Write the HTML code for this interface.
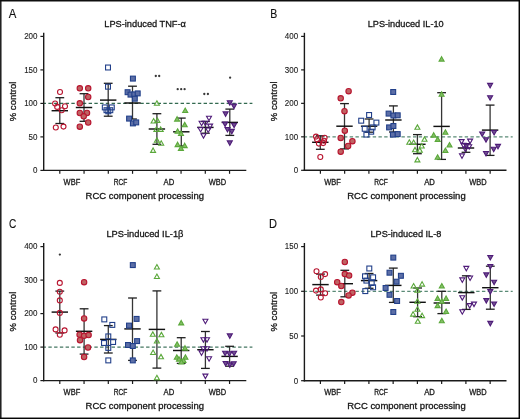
<!DOCTYPE html>
<html><head><meta charset="utf-8"><style>
html,body{margin:0;padding:0;background:#fff;}
svg{display:block;will-change:transform;}
text{font-family:"Liberation Sans", sans-serif;stroke:#1a1a1a;stroke-width:0.3px;}
</style></head><body>
<svg width="520" height="419" viewBox="0 0 520 419">
<rect x="0" y="0" width="520" height="419" fill="#fff"/>
<rect x="0" y="0" width="1.55" height="419" fill="#222"/>
<rect x="0" y="0" width="520" height="1.5" fill="#0e0e0e"/>
<rect x="518.55" y="0" width="1.45" height="419" fill="#050505"/>
<rect x="0" y="417.55" width="520" height="1.45" fill="#050505"/>
<text x="8.8" y="17.8" font-size="12.6" fill="#111" style="stroke-width:0.15px" textLength="7.6" lengthAdjust="spacingAndGlyphs">A</text>
<text x="145.1" y="26.6" font-size="9.7" text-anchor="middle" fill="#111" textLength="81.6" lengthAdjust="spacingAndGlyphs">LPS-induced TNF-α</text>
<line x1="40.400000000000006" y1="170.40" x2="43.7" y2="170.40" stroke="#1a1a1a" stroke-width="1.2"/>
<text x="37.5" y="173.20" font-size="9.4" text-anchor="end" fill="#222" style="stroke-width:0.12px" textLength="4.45" lengthAdjust="spacingAndGlyphs">0</text>
<line x1="40.400000000000006" y1="136.90" x2="43.7" y2="136.90" stroke="#1a1a1a" stroke-width="1.2"/>
<text x="37.5" y="139.70" font-size="9.4" text-anchor="end" fill="#222" style="stroke-width:0.12px" textLength="8.90" lengthAdjust="spacingAndGlyphs">50</text>
<line x1="40.400000000000006" y1="103.40" x2="43.7" y2="103.40" stroke="#1a1a1a" stroke-width="1.2"/>
<text x="37.5" y="106.20" font-size="9.4" text-anchor="end" fill="#222" style="stroke-width:0.12px" textLength="13.35" lengthAdjust="spacingAndGlyphs">100</text>
<line x1="40.400000000000006" y1="69.90" x2="43.7" y2="69.90" stroke="#1a1a1a" stroke-width="1.2"/>
<text x="37.5" y="72.70" font-size="9.4" text-anchor="end" fill="#222" style="stroke-width:0.12px" textLength="13.35" lengthAdjust="spacingAndGlyphs">150</text>
<line x1="40.400000000000006" y1="36.40" x2="43.7" y2="36.40" stroke="#1a1a1a" stroke-width="1.2"/>
<text x="37.5" y="39.20" font-size="9.4" text-anchor="end" fill="#222" style="stroke-width:0.12px" textLength="13.35" lengthAdjust="spacingAndGlyphs">200</text>
<text transform="translate(16.4,101.40) rotate(-90)" font-size="9.7" text-anchor="middle" fill="#111" textLength="39.7" lengthAdjust="spacingAndGlyphs">% control</text>
<line x1="43.7" y1="103.4" x2="252.4" y2="103.4" stroke="#336a50" stroke-width="1.2" stroke-dasharray="3.4 2.35" stroke-dashoffset="1.1"/>
<line x1="43.7" y1="32.80" x2="43.7" y2="171.10" stroke="#1a1a1a" stroke-width="1.4"/>
<line x1="43.0" y1="170.4" x2="246.3" y2="170.4" stroke="#1a1a1a" stroke-width="1.4"/>
<line x1="59.80" y1="170.4" x2="59.80" y2="173.80" stroke="#1a1a1a" stroke-width="1.2"/>
<line x1="84.05" y1="170.4" x2="84.05" y2="173.80" stroke="#1a1a1a" stroke-width="1.2"/>
<line x1="108.30" y1="170.4" x2="108.30" y2="173.80" stroke="#1a1a1a" stroke-width="1.2"/>
<line x1="132.55" y1="170.4" x2="132.55" y2="173.80" stroke="#1a1a1a" stroke-width="1.2"/>
<line x1="156.80" y1="170.4" x2="156.80" y2="173.80" stroke="#1a1a1a" stroke-width="1.2"/>
<line x1="181.05" y1="170.4" x2="181.05" y2="173.80" stroke="#1a1a1a" stroke-width="1.2"/>
<line x1="205.30" y1="170.4" x2="205.30" y2="173.80" stroke="#1a1a1a" stroke-width="1.2"/>
<line x1="229.55" y1="170.4" x2="229.55" y2="173.80" stroke="#1a1a1a" stroke-width="1.2"/>
<text x="71.92" y="184.80" font-size="8.2" text-anchor="middle" fill="#222" textLength="16.6" lengthAdjust="spacingAndGlyphs">WBF</text>
<text x="120.43" y="184.80" font-size="8.2" text-anchor="middle" fill="#222" textLength="13.6" lengthAdjust="spacingAndGlyphs">RCF</text>
<text x="168.93" y="184.80" font-size="8.2" text-anchor="middle" fill="#222" textLength="10.7" lengthAdjust="spacingAndGlyphs">AD</text>
<text x="217.43" y="184.80" font-size="8.2" text-anchor="middle" fill="#222" textLength="17.4" lengthAdjust="spacingAndGlyphs">WBD</text>
<text x="144.80" y="198.70" font-size="9.4" text-anchor="middle" fill="#111" textLength="118.4" lengthAdjust="spacingAndGlyphs">RCC component processing</text>
<line x1="59.8" y1="97.7" x2="59.8" y2="123.5" stroke="#353535" stroke-width="1.3"/>
<line x1="55.40" y1="97.7" x2="64.20" y2="97.7" stroke="#1e1e1e" stroke-width="1.3"/>
<line x1="55.40" y1="123.5" x2="64.20" y2="123.5" stroke="#1e1e1e" stroke-width="1.3"/>
<line x1="51.60" y1="110.7" x2="68.00" y2="110.7" stroke="#111" stroke-width="1.45"/>
<circle cx="60.0" cy="92.0" r="2.5" fill="none" stroke="#b8142f" stroke-width="1.1"/>
<circle cx="55.1" cy="103.5" r="2.5" fill="none" stroke="#b8142f" stroke-width="1.1"/>
<circle cx="57.2" cy="106.9" r="2.5" fill="none" stroke="#b8142f" stroke-width="1.1"/>
<circle cx="61.7" cy="110.3" r="2.5" fill="none" stroke="#b8142f" stroke-width="1.1"/>
<circle cx="65.0" cy="106.3" r="2.5" fill="none" stroke="#b8142f" stroke-width="1.1"/>
<circle cx="55.8" cy="127.5" r="2.5" fill="none" stroke="#b8142f" stroke-width="1.1"/>
<circle cx="63.5" cy="126.6" r="2.5" fill="none" stroke="#b8142f" stroke-width="1.1"/>
<line x1="84.0" y1="93.7" x2="84.0" y2="121.3" stroke="#353535" stroke-width="1.3"/>
<line x1="79.60" y1="93.7" x2="88.40" y2="93.7" stroke="#1e1e1e" stroke-width="1.3"/>
<line x1="79.60" y1="121.3" x2="88.40" y2="121.3" stroke="#1e1e1e" stroke-width="1.3"/>
<line x1="75.80" y1="107.5" x2="92.20" y2="107.5" stroke="#111" stroke-width="1.45"/>
<circle cx="79.8" cy="88.3" r="2.7" fill="#bf6363" stroke="#b8142f" stroke-width="1.1"/>
<circle cx="88.2" cy="88.3" r="2.7" fill="#bf6363" stroke="#b8142f" stroke-width="1.1"/>
<circle cx="88.2" cy="97" r="2.7" fill="#bf6363" stroke="#b8142f" stroke-width="1.1"/>
<circle cx="79.8" cy="103.3" r="2.7" fill="#bf6363" stroke="#b8142f" stroke-width="1.1"/>
<circle cx="79.8" cy="113" r="2.7" fill="#bf6363" stroke="#b8142f" stroke-width="1.1"/>
<circle cx="87" cy="113" r="2.7" fill="#bf6363" stroke="#b8142f" stroke-width="1.1"/>
<circle cx="83.7" cy="116.3" r="2.7" fill="#bf6363" stroke="#b8142f" stroke-width="1.1"/>
<circle cx="88.2" cy="122.5" r="2.7" fill="#bf6363" stroke="#b8142f" stroke-width="1.1"/>
<circle cx="79.8" cy="126.7" r="2.7" fill="#bf6363" stroke="#b8142f" stroke-width="1.1"/>
<line x1="108.2" y1="83.3" x2="108.2" y2="116.2" stroke="#353535" stroke-width="1.3"/>
<line x1="103.80" y1="83.3" x2="112.60" y2="83.3" stroke="#1e1e1e" stroke-width="1.3"/>
<line x1="103.80" y1="116.2" x2="112.60" y2="116.2" stroke="#1e1e1e" stroke-width="1.3"/>
<line x1="100.00" y1="100.1" x2="116.40" y2="100.1" stroke="#111" stroke-width="1.45"/>
<rect x="105.55" y="65.05" width="4.9" height="4.9" fill="none" stroke="#22408a" stroke-width="1.1"/>
<rect x="105.55" y="84.25" width="4.9" height="4.9" fill="none" stroke="#22408a" stroke-width="1.1"/>
<rect x="102.35" y="104.95" width="4.9" height="4.9" fill="none" stroke="#22408a" stroke-width="1.1"/>
<rect x="109.35" y="104.95" width="4.9" height="4.9" fill="none" stroke="#22408a" stroke-width="1.1"/>
<rect x="104.05" y="107.75" width="4.9" height="4.9" fill="none" stroke="#22408a" stroke-width="1.1"/>
<rect x="107.85" y="107.75" width="4.9" height="4.9" fill="none" stroke="#22408a" stroke-width="1.1"/>
<rect x="105.85" y="108.85" width="4.9" height="4.9" fill="none" stroke="#22408a" stroke-width="1.1"/>
<line x1="132.5" y1="86.2" x2="132.5" y2="119.0" stroke="#353535" stroke-width="1.3"/>
<line x1="128.10" y1="86.2" x2="136.90" y2="86.2" stroke="#1e1e1e" stroke-width="1.3"/>
<line x1="128.10" y1="119.0" x2="136.90" y2="119.0" stroke="#1e1e1e" stroke-width="1.3"/>
<line x1="124.30" y1="103.0" x2="140.70" y2="103.0" stroke="#111" stroke-width="1.45"/>
<rect x="130.45" y="76.15" width="4.9" height="4.9" fill="#5c6ea6" stroke="#22408a" stroke-width="1.1"/>
<rect x="125.15" y="89.75" width="4.9" height="4.9" fill="#5c6ea6" stroke="#22408a" stroke-width="1.1"/>
<rect x="128.05" y="92.15" width="4.9" height="4.9" fill="#5c6ea6" stroke="#22408a" stroke-width="1.1"/>
<rect x="131.85" y="91.95" width="4.9" height="4.9" fill="#5c6ea6" stroke="#22408a" stroke-width="1.1"/>
<rect x="135.25" y="90.95" width="4.9" height="4.9" fill="#5c6ea6" stroke="#22408a" stroke-width="1.1"/>
<rect x="132.35" y="96.25" width="4.9" height="4.9" fill="#5c6ea6" stroke="#22408a" stroke-width="1.1"/>
<rect x="126.65" y="116.15" width="4.9" height="4.9" fill="#5c6ea6" stroke="#22408a" stroke-width="1.1"/>
<rect x="130.45" y="120.95" width="4.9" height="4.9" fill="#5c6ea6" stroke="#22408a" stroke-width="1.1"/>
<rect x="133.75" y="119.95" width="4.9" height="4.9" fill="#5c6ea6" stroke="#22408a" stroke-width="1.1"/>
<line x1="156.9" y1="113.7" x2="156.9" y2="144.3" stroke="#353535" stroke-width="1.3"/>
<line x1="152.50" y1="113.7" x2="161.30" y2="113.7" stroke="#1e1e1e" stroke-width="1.3"/>
<line x1="152.50" y1="144.3" x2="161.30" y2="144.3" stroke="#1e1e1e" stroke-width="1.3"/>
<line x1="148.70" y1="129.0" x2="165.10" y2="129.0" stroke="#111" stroke-width="1.45"/>
<polygon points="156.90,100.78 159.40,105.18 154.40,105.18" fill="none" stroke="#5aa83a" stroke-width="1.1"/>
<polygon points="153.60,118.58 156.10,122.98 151.10,122.98" fill="none" stroke="#5aa83a" stroke-width="1.1"/>
<polygon points="157.40,117.98 159.90,122.38 154.90,122.38" fill="none" stroke="#5aa83a" stroke-width="1.1"/>
<polygon points="156.40,126.98 158.90,131.38 153.90,131.38" fill="none" stroke="#5aa83a" stroke-width="1.1"/>
<polygon points="160.70,126.98 163.20,131.38 158.20,131.38" fill="none" stroke="#5aa83a" stroke-width="1.1"/>
<polygon points="156.90,137.88 159.40,142.28 154.40,142.28" fill="none" stroke="#5aa83a" stroke-width="1.1"/>
<polygon points="161.20,140.78 163.70,145.18 158.70,145.18" fill="none" stroke="#5aa83a" stroke-width="1.1"/>
<polygon points="153.10,147.98 155.60,152.38 150.60,152.38" fill="none" stroke="#5aa83a" stroke-width="1.1"/>
<line x1="181.3" y1="118.1" x2="181.3" y2="146.0" stroke="#353535" stroke-width="1.3"/>
<line x1="176.90" y1="118.1" x2="185.70" y2="118.1" stroke="#1e1e1e" stroke-width="1.3"/>
<line x1="176.90" y1="146.0" x2="185.70" y2="146.0" stroke="#1e1e1e" stroke-width="1.3"/>
<line x1="173.10" y1="131.8" x2="189.50" y2="131.8" stroke="#111" stroke-width="1.45"/>
<polygon points="185.20,108.08 187.70,112.48 182.70,112.48" fill="#86bf68" stroke="#5aa83a" stroke-width="1.1" stroke-linejoin="miter"/>
<polygon points="177.10,116.68 179.60,121.08 174.60,121.08" fill="#86bf68" stroke="#5aa83a" stroke-width="1.1" stroke-linejoin="miter"/>
<polygon points="184.70,122.38 187.20,126.78 182.20,126.78" fill="#86bf68" stroke="#5aa83a" stroke-width="1.1" stroke-linejoin="miter"/>
<polygon points="177.60,128.78 180.10,133.18 175.10,133.18" fill="#86bf68" stroke="#5aa83a" stroke-width="1.1" stroke-linejoin="miter"/>
<polygon points="181.00,131.08 183.50,135.48 178.50,135.48" fill="#86bf68" stroke="#5aa83a" stroke-width="1.1" stroke-linejoin="miter"/>
<polygon points="177.60,142.18 180.10,146.58 175.10,146.58" fill="#86bf68" stroke="#5aa83a" stroke-width="1.1" stroke-linejoin="miter"/>
<polygon points="184.70,143.18 187.20,147.58 182.20,147.58" fill="#86bf68" stroke="#5aa83a" stroke-width="1.1" stroke-linejoin="miter"/>
<polygon points="180.90,145.98 183.40,150.38 178.40,150.38" fill="#86bf68" stroke="#5aa83a" stroke-width="1.1" stroke-linejoin="miter"/>
<line x1="205.4" y1="121.5" x2="205.4" y2="133.2" stroke="#353535" stroke-width="1.3"/>
<line x1="201.00" y1="121.5" x2="209.80" y2="121.5" stroke="#1e1e1e" stroke-width="1.3"/>
<line x1="201.00" y1="133.2" x2="209.80" y2="133.2" stroke="#1e1e1e" stroke-width="1.3"/>
<line x1="197.20" y1="127.4" x2="213.60" y2="127.4" stroke="#111" stroke-width="1.45"/>
<polygon points="206.50,116.32 211.50,116.32 209.00,120.72" fill="none" stroke="#4e1a78" stroke-width="1.1"/>
<polygon points="199.10,121.32 204.10,121.32 201.60,125.72" fill="none" stroke="#4e1a78" stroke-width="1.1"/>
<polygon points="202.90,121.32 207.90,121.32 205.40,125.72" fill="none" stroke="#4e1a78" stroke-width="1.1"/>
<polygon points="207.60,124.12 212.60,124.12 210.10,128.52" fill="none" stroke="#4e1a78" stroke-width="1.1"/>
<polygon points="198.10,127.52 203.10,127.52 200.60,131.92" fill="none" stroke="#4e1a78" stroke-width="1.1"/>
<polygon points="205.70,128.02 210.70,128.02 208.20,132.42" fill="none" stroke="#4e1a78" stroke-width="1.1"/>
<polygon points="201.00,133.72 206.00,133.72 203.50,138.12" fill="none" stroke="#4e1a78" stroke-width="1.1"/>
<line x1="229.8" y1="109.1" x2="229.8" y2="135.4" stroke="#353535" stroke-width="1.3"/>
<line x1="225.40" y1="109.1" x2="234.20" y2="109.1" stroke="#1e1e1e" stroke-width="1.3"/>
<line x1="225.40" y1="135.4" x2="234.20" y2="135.4" stroke="#1e1e1e" stroke-width="1.3"/>
<line x1="221.60" y1="122.4" x2="238.00" y2="122.4" stroke="#111" stroke-width="1.45"/>
<polygon points="227.30,100.72 232.30,100.72 229.80,105.12" fill="#70528f" stroke="#4e1a78" stroke-width="1.1"/>
<polygon points="231.50,104.12 236.50,104.12 234.00,108.52" fill="#70528f" stroke="#4e1a78" stroke-width="1.1"/>
<polygon points="223.10,111.92 228.10,111.92 225.60,116.32" fill="#70528f" stroke="#4e1a78" stroke-width="1.1"/>
<polygon points="222.60,122.12 227.60,122.12 225.10,126.52" fill="#70528f" stroke="#4e1a78" stroke-width="1.1"/>
<polygon points="231.60,123.22 236.60,123.22 234.10,127.62" fill="#70528f" stroke="#4e1a78" stroke-width="1.1"/>
<polygon points="225.00,127.52 230.00,127.52 227.50,131.92" fill="#70528f" stroke="#4e1a78" stroke-width="1.1"/>
<polygon points="229.30,129.42 234.30,129.42 231.80,133.82" fill="#70528f" stroke="#4e1a78" stroke-width="1.1"/>
<polygon points="227.30,140.92 232.30,140.92 229.80,145.32" fill="#70528f" stroke="#4e1a78" stroke-width="1.1"/>
<text x="270.3" y="18.0" font-size="12.6" fill="#111" style="stroke-width:0.15px" textLength="7.0" lengthAdjust="spacingAndGlyphs">B</text>
<text x="405.7" y="26.5" font-size="9.7" text-anchor="middle" fill="#111" textLength="76.0" lengthAdjust="spacingAndGlyphs">LPS-induced IL-10</text>
<line x1="301.09999999999997" y1="170.30" x2="304.4" y2="170.30" stroke="#1a1a1a" stroke-width="1.2"/>
<text x="298.2" y="173.10" font-size="9.4" text-anchor="end" fill="#222" style="stroke-width:0.12px" textLength="4.45" lengthAdjust="spacingAndGlyphs">0</text>
<line x1="301.09999999999997" y1="136.83" x2="304.4" y2="136.83" stroke="#1a1a1a" stroke-width="1.2"/>
<text x="298.2" y="139.63" font-size="9.4" text-anchor="end" fill="#222" style="stroke-width:0.12px" textLength="13.35" lengthAdjust="spacingAndGlyphs">100</text>
<line x1="301.09999999999997" y1="103.35" x2="304.4" y2="103.35" stroke="#1a1a1a" stroke-width="1.2"/>
<text x="298.2" y="106.15" font-size="9.4" text-anchor="end" fill="#222" style="stroke-width:0.12px" textLength="13.35" lengthAdjust="spacingAndGlyphs">200</text>
<line x1="301.09999999999997" y1="69.88" x2="304.4" y2="69.88" stroke="#1a1a1a" stroke-width="1.2"/>
<text x="298.2" y="72.67" font-size="9.4" text-anchor="end" fill="#222" style="stroke-width:0.12px" textLength="13.35" lengthAdjust="spacingAndGlyphs">300</text>
<line x1="301.09999999999997" y1="36.40" x2="304.4" y2="36.40" stroke="#1a1a1a" stroke-width="1.2"/>
<text x="298.2" y="39.20" font-size="9.4" text-anchor="end" fill="#222" style="stroke-width:0.12px" textLength="13.35" lengthAdjust="spacingAndGlyphs">400</text>
<text transform="translate(277.0,101.35) rotate(-90)" font-size="9.7" text-anchor="middle" fill="#111" textLength="39.7" lengthAdjust="spacingAndGlyphs">% control</text>
<line x1="304.4" y1="136.8" x2="512.7" y2="136.8" stroke="#5a8a76" stroke-width="1.2" stroke-dasharray="3.4 2.35" stroke-dashoffset="0.7"/>
<line x1="304.4" y1="32.80" x2="304.4" y2="171.00" stroke="#1a1a1a" stroke-width="1.4"/>
<line x1="303.7" y1="170.3" x2="506.5" y2="170.3" stroke="#1a1a1a" stroke-width="1.4"/>
<line x1="320.40" y1="170.3" x2="320.40" y2="173.70" stroke="#1a1a1a" stroke-width="1.2"/>
<line x1="344.65" y1="170.3" x2="344.65" y2="173.70" stroke="#1a1a1a" stroke-width="1.2"/>
<line x1="368.90" y1="170.3" x2="368.90" y2="173.70" stroke="#1a1a1a" stroke-width="1.2"/>
<line x1="393.15" y1="170.3" x2="393.15" y2="173.70" stroke="#1a1a1a" stroke-width="1.2"/>
<line x1="417.40" y1="170.3" x2="417.40" y2="173.70" stroke="#1a1a1a" stroke-width="1.2"/>
<line x1="441.65" y1="170.3" x2="441.65" y2="173.70" stroke="#1a1a1a" stroke-width="1.2"/>
<line x1="465.90" y1="170.3" x2="465.90" y2="173.70" stroke="#1a1a1a" stroke-width="1.2"/>
<line x1="490.15" y1="170.3" x2="490.15" y2="173.70" stroke="#1a1a1a" stroke-width="1.2"/>
<text x="332.53" y="184.70" font-size="8.2" text-anchor="middle" fill="#222" textLength="16.6" lengthAdjust="spacingAndGlyphs">WBF</text>
<text x="381.03" y="184.70" font-size="8.2" text-anchor="middle" fill="#222" textLength="13.6" lengthAdjust="spacingAndGlyphs">RCF</text>
<text x="429.53" y="184.70" font-size="8.2" text-anchor="middle" fill="#222" textLength="10.7" lengthAdjust="spacingAndGlyphs">AD</text>
<text x="478.03" y="184.70" font-size="8.2" text-anchor="middle" fill="#222" textLength="17.4" lengthAdjust="spacingAndGlyphs">WBD</text>
<text x="406.45" y="198.60" font-size="9.4" text-anchor="middle" fill="#111" textLength="118.4" lengthAdjust="spacingAndGlyphs">RCC component processing</text>
<line x1="320.3" y1="135.8" x2="320.3" y2="149.3" stroke="#353535" stroke-width="1.3"/>
<line x1="315.90" y1="135.8" x2="324.70" y2="135.8" stroke="#1e1e1e" stroke-width="1.3"/>
<line x1="315.90" y1="149.3" x2="324.70" y2="149.3" stroke="#1e1e1e" stroke-width="1.3"/>
<line x1="312.10" y1="142.3" x2="328.50" y2="142.3" stroke="#111" stroke-width="1.45"/>
<circle cx="316" cy="136.6" r="2.5" fill="none" stroke="#b8142f" stroke-width="1.1"/>
<circle cx="317" cy="139.2" r="2.5" fill="none" stroke="#b8142f" stroke-width="1.1"/>
<circle cx="324.6" cy="137.8" r="2.5" fill="none" stroke="#b8142f" stroke-width="1.1"/>
<circle cx="324" cy="140.8" r="2.5" fill="none" stroke="#b8142f" stroke-width="1.1"/>
<circle cx="318.9" cy="143.6" r="2.5" fill="none" stroke="#b8142f" stroke-width="1.1"/>
<circle cx="323.2" cy="143.1" r="2.5" fill="none" stroke="#b8142f" stroke-width="1.1"/>
<circle cx="320.3" cy="157" r="2.5" fill="none" stroke="#b8142f" stroke-width="1.1"/>
<line x1="344.5" y1="103.6" x2="344.5" y2="148.9" stroke="#353535" stroke-width="1.3"/>
<line x1="340.10" y1="103.6" x2="348.90" y2="103.6" stroke="#1e1e1e" stroke-width="1.3"/>
<line x1="340.10" y1="148.9" x2="348.90" y2="148.9" stroke="#1e1e1e" stroke-width="1.3"/>
<line x1="336.30" y1="126.2" x2="352.70" y2="126.2" stroke="#111" stroke-width="1.45"/>
<circle cx="348.6" cy="91.2" r="2.7" fill="#bf6363" stroke="#b8142f" stroke-width="1.1"/>
<circle cx="340.7" cy="98.3" r="2.7" fill="#bf6363" stroke="#b8142f" stroke-width="1.1"/>
<circle cx="344.5" cy="111.2" r="2.7" fill="#bf6363" stroke="#b8142f" stroke-width="1.1"/>
<circle cx="344.8" cy="130.7" r="2.7" fill="#bf6363" stroke="#b8142f" stroke-width="1.1"/>
<circle cx="340.7" cy="137.9" r="2.7" fill="#bf6363" stroke="#b8142f" stroke-width="1.1"/>
<circle cx="352.4" cy="141.2" r="2.7" fill="#bf6363" stroke="#b8142f" stroke-width="1.1"/>
<circle cx="348.1" cy="146" r="2.7" fill="#bf6363" stroke="#b8142f" stroke-width="1.1"/>
<circle cx="340.7" cy="151.7" r="2.7" fill="#bf6363" stroke="#b8142f" stroke-width="1.1"/>
<line x1="369.1" y1="119.0" x2="369.1" y2="132.2" stroke="#353535" stroke-width="1.3"/>
<line x1="364.70" y1="119.0" x2="373.50" y2="119.0" stroke="#1e1e1e" stroke-width="1.3"/>
<line x1="364.70" y1="132.2" x2="373.50" y2="132.2" stroke="#1e1e1e" stroke-width="1.3"/>
<line x1="360.90" y1="126.2" x2="377.30" y2="126.2" stroke="#111" stroke-width="1.45"/>
<rect x="366.65" y="112.55" width="4.9" height="4.9" fill="none" stroke="#22408a" stroke-width="1.1"/>
<rect x="358.75" y="118.25" width="4.9" height="4.9" fill="none" stroke="#22408a" stroke-width="1.1"/>
<rect x="373.95" y="120.15" width="4.9" height="4.9" fill="none" stroke="#22408a" stroke-width="1.1"/>
<rect x="362.25" y="126.35" width="4.9" height="4.9" fill="none" stroke="#22408a" stroke-width="1.1"/>
<rect x="370.15" y="124.95" width="4.9" height="4.9" fill="none" stroke="#22408a" stroke-width="1.1"/>
<rect x="368.75" y="129.25" width="4.9" height="4.9" fill="none" stroke="#22408a" stroke-width="1.1"/>
<rect x="363.95" y="132.15" width="4.9" height="4.9" fill="none" stroke="#22408a" stroke-width="1.1"/>
<line x1="393.4" y1="105.9" x2="393.4" y2="132.0" stroke="#353535" stroke-width="1.3"/>
<line x1="389.00" y1="105.9" x2="397.80" y2="105.9" stroke="#1e1e1e" stroke-width="1.3"/>
<line x1="389.00" y1="132.0" x2="397.80" y2="132.0" stroke="#1e1e1e" stroke-width="1.3"/>
<line x1="385.20" y1="120.0" x2="401.60" y2="120.0" stroke="#111" stroke-width="1.45"/>
<rect x="390.75" y="89.55" width="4.9" height="4.9" fill="#5c6ea6" stroke="#22408a" stroke-width="1.1"/>
<rect x="386.15" y="111.15" width="4.9" height="4.9" fill="#5c6ea6" stroke="#22408a" stroke-width="1.1"/>
<rect x="390.95" y="113.05" width="4.9" height="4.9" fill="#5c6ea6" stroke="#22408a" stroke-width="1.1"/>
<rect x="395.25" y="112.85" width="4.9" height="4.9" fill="#5c6ea6" stroke="#22408a" stroke-width="1.1"/>
<rect x="386.65" y="124.95" width="4.9" height="4.9" fill="#5c6ea6" stroke="#22408a" stroke-width="1.1"/>
<rect x="390.95" y="123.55" width="4.9" height="4.9" fill="#5c6ea6" stroke="#22408a" stroke-width="1.1"/>
<rect x="390.45" y="132.15" width="4.9" height="4.9" fill="#5c6ea6" stroke="#22408a" stroke-width="1.1"/>
<rect x="395.25" y="131.65" width="4.9" height="4.9" fill="#5c6ea6" stroke="#22408a" stroke-width="1.1"/>
<line x1="417.4" y1="134.6" x2="417.4" y2="153.7" stroke="#353535" stroke-width="1.3"/>
<line x1="413.00" y1="134.6" x2="421.80" y2="134.6" stroke="#1e1e1e" stroke-width="1.3"/>
<line x1="413.00" y1="153.7" x2="421.80" y2="153.7" stroke="#1e1e1e" stroke-width="1.3"/>
<line x1="409.20" y1="144.3" x2="425.60" y2="144.3" stroke="#111" stroke-width="1.45"/>
<polygon points="417.40,124.88 419.90,129.28 414.90,129.28" fill="none" stroke="#5aa83a" stroke-width="1.1"/>
<polygon points="424.50,136.88 427.00,141.28 422.00,141.28" fill="none" stroke="#5aa83a" stroke-width="1.1"/>
<polygon points="409.30,139.78 411.80,144.18 406.80,144.18" fill="none" stroke="#5aa83a" stroke-width="1.1"/>
<polygon points="413.60,140.08 416.10,144.48 411.10,144.48" fill="none" stroke="#5aa83a" stroke-width="1.1"/>
<polygon points="421.70,143.58 424.20,147.98 419.20,147.98" fill="none" stroke="#5aa83a" stroke-width="1.1"/>
<polygon points="415.00,147.38 417.50,151.78 412.50,151.78" fill="none" stroke="#5aa83a" stroke-width="1.1"/>
<polygon points="419.80,147.88 422.30,152.28 417.30,152.28" fill="none" stroke="#5aa83a" stroke-width="1.1"/>
<polygon points="417.40,157.48 419.90,161.88 414.90,161.88" fill="none" stroke="#5aa83a" stroke-width="1.1"/>
<line x1="441.6" y1="92.7" x2="441.6" y2="159.4" stroke="#353535" stroke-width="1.3"/>
<line x1="437.20" y1="92.7" x2="446.00" y2="92.7" stroke="#1e1e1e" stroke-width="1.3"/>
<line x1="437.20" y1="159.4" x2="446.00" y2="159.4" stroke="#1e1e1e" stroke-width="1.3"/>
<line x1="433.40" y1="126.4" x2="449.80" y2="126.4" stroke="#111" stroke-width="1.45"/>
<polygon points="441.60,56.68 444.10,61.08 439.10,61.08" fill="#86bf68" stroke="#5aa83a" stroke-width="1.1" stroke-linejoin="miter"/>
<polygon points="441.60,91.88 444.10,96.28 439.10,96.28" fill="#86bf68" stroke="#5aa83a" stroke-width="1.1" stroke-linejoin="miter"/>
<polygon points="445.40,129.78 447.90,134.18 442.90,134.18" fill="#86bf68" stroke="#5aa83a" stroke-width="1.1" stroke-linejoin="miter"/>
<polygon points="433.70,132.68 436.20,137.08 431.20,137.08" fill="#86bf68" stroke="#5aa83a" stroke-width="1.1" stroke-linejoin="miter"/>
<polygon points="437.70,136.98 440.20,141.38 435.20,141.38" fill="#86bf68" stroke="#5aa83a" stroke-width="1.1" stroke-linejoin="miter"/>
<polygon points="449.50,142.58 452.00,146.98 447.00,146.98" fill="#86bf68" stroke="#5aa83a" stroke-width="1.1" stroke-linejoin="miter"/>
<polygon points="445.40,148.08 447.90,152.48 442.90,152.48" fill="#86bf68" stroke="#5aa83a" stroke-width="1.1" stroke-linejoin="miter"/>
<polygon points="437.60,154.78 440.10,159.18 435.10,159.18" fill="#86bf68" stroke="#5aa83a" stroke-width="1.1" stroke-linejoin="miter"/>
<line x1="466.0" y1="143.7" x2="466.0" y2="152.3" stroke="#353535" stroke-width="1.3"/>
<line x1="461.60" y1="143.7" x2="470.40" y2="143.7" stroke="#1e1e1e" stroke-width="1.3"/>
<line x1="461.60" y1="152.3" x2="470.40" y2="152.3" stroke="#1e1e1e" stroke-width="1.3"/>
<line x1="457.80" y1="148.0" x2="474.20" y2="148.0" stroke="#111" stroke-width="1.45"/>
<polygon points="459.10,139.62 464.10,139.62 461.60,144.02" fill="none" stroke="#4e1a78" stroke-width="1.1"/>
<polygon points="467.60,139.12 472.60,139.12 470.10,143.52" fill="none" stroke="#4e1a78" stroke-width="1.1"/>
<polygon points="461.00,143.42 466.00,143.42 463.50,147.82" fill="none" stroke="#4e1a78" stroke-width="1.1"/>
<polygon points="463.80,143.92 468.80,143.92 466.30,148.32" fill="none" stroke="#4e1a78" stroke-width="1.1"/>
<polygon points="466.70,144.82 471.70,144.82 469.20,149.22" fill="none" stroke="#4e1a78" stroke-width="1.1"/>
<polygon points="462.90,147.22 467.90,147.22 465.40,151.62" fill="none" stroke="#4e1a78" stroke-width="1.1"/>
<polygon points="459.50,153.92 464.50,153.92 462.00,158.32" fill="none" stroke="#4e1a78" stroke-width="1.1"/>
<line x1="490.1" y1="105.1" x2="490.1" y2="155.4" stroke="#353535" stroke-width="1.3"/>
<line x1="485.70" y1="105.1" x2="494.50" y2="105.1" stroke="#1e1e1e" stroke-width="1.3"/>
<line x1="485.70" y1="155.4" x2="494.50" y2="155.4" stroke="#1e1e1e" stroke-width="1.3"/>
<line x1="481.90" y1="130.1" x2="498.30" y2="130.1" stroke="#111" stroke-width="1.45"/>
<polygon points="487.60,83.42 492.60,83.42 490.10,87.82" fill="#70528f" stroke="#4e1a78" stroke-width="1.1"/>
<polygon points="487.60,95.82 492.60,95.82 490.10,100.22" fill="#70528f" stroke="#4e1a78" stroke-width="1.1"/>
<polygon points="491.60,130.52 496.60,130.52 494.10,134.92" fill="#70528f" stroke="#4e1a78" stroke-width="1.1"/>
<polygon points="479.70,132.02 484.70,132.02 482.20,136.42" fill="#70528f" stroke="#4e1a78" stroke-width="1.1"/>
<polygon points="483.50,137.72 488.50,137.72 486.00,142.12" fill="#70528f" stroke="#4e1a78" stroke-width="1.1"/>
<polygon points="495.50,144.42 500.50,144.42 498.00,148.82" fill="#70528f" stroke="#4e1a78" stroke-width="1.1"/>
<polygon points="491.20,147.32 496.20,147.32 493.70,151.72" fill="#70528f" stroke="#4e1a78" stroke-width="1.1"/>
<polygon points="483.50,151.52 488.50,151.52 486.00,155.92" fill="#70528f" stroke="#4e1a78" stroke-width="1.1"/>
<text x="8.9" y="228.2" font-size="12.6" fill="#111" style="stroke-width:0.15px" textLength="7.3" lengthAdjust="spacingAndGlyphs">C</text>
<text x="144.9" y="237.0" font-size="9.7" text-anchor="middle" fill="#111" textLength="77.0" lengthAdjust="spacingAndGlyphs">LPS-induced IL-1β</text>
<line x1="40.400000000000006" y1="380.60" x2="43.7" y2="380.60" stroke="#1a1a1a" stroke-width="1.2"/>
<text x="37.5" y="383.40" font-size="9.4" text-anchor="end" fill="#222" style="stroke-width:0.12px" textLength="4.45" lengthAdjust="spacingAndGlyphs">0</text>
<line x1="40.400000000000006" y1="347.10" x2="43.7" y2="347.10" stroke="#1a1a1a" stroke-width="1.2"/>
<text x="37.5" y="349.90" font-size="9.4" text-anchor="end" fill="#222" style="stroke-width:0.12px" textLength="13.35" lengthAdjust="spacingAndGlyphs">100</text>
<line x1="40.400000000000006" y1="313.60" x2="43.7" y2="313.60" stroke="#1a1a1a" stroke-width="1.2"/>
<text x="37.5" y="316.40" font-size="9.4" text-anchor="end" fill="#222" style="stroke-width:0.12px" textLength="13.35" lengthAdjust="spacingAndGlyphs">200</text>
<line x1="40.400000000000006" y1="280.10" x2="43.7" y2="280.10" stroke="#1a1a1a" stroke-width="1.2"/>
<text x="37.5" y="282.90" font-size="9.4" text-anchor="end" fill="#222" style="stroke-width:0.12px" textLength="13.35" lengthAdjust="spacingAndGlyphs">300</text>
<line x1="40.400000000000006" y1="246.60" x2="43.7" y2="246.60" stroke="#1a1a1a" stroke-width="1.2"/>
<text x="37.5" y="249.40" font-size="9.4" text-anchor="end" fill="#222" style="stroke-width:0.12px" textLength="13.35" lengthAdjust="spacingAndGlyphs">400</text>
<text transform="translate(16.4,311.60) rotate(-90)" font-size="9.7" text-anchor="middle" fill="#111" textLength="39.7" lengthAdjust="spacingAndGlyphs">% control</text>
<line x1="43.7" y1="347.2" x2="252.4" y2="347.2" stroke="#457762" stroke-width="1.2" stroke-dasharray="3.4 2.35" stroke-dashoffset="1.1"/>
<line x1="43.7" y1="243.00" x2="43.7" y2="381.30" stroke="#1a1a1a" stroke-width="1.4"/>
<line x1="43.0" y1="380.6" x2="246.3" y2="380.6" stroke="#1a1a1a" stroke-width="1.4"/>
<line x1="59.80" y1="380.6" x2="59.80" y2="384.00" stroke="#1a1a1a" stroke-width="1.2"/>
<line x1="84.05" y1="380.6" x2="84.05" y2="384.00" stroke="#1a1a1a" stroke-width="1.2"/>
<line x1="108.30" y1="380.6" x2="108.30" y2="384.00" stroke="#1a1a1a" stroke-width="1.2"/>
<line x1="132.55" y1="380.6" x2="132.55" y2="384.00" stroke="#1a1a1a" stroke-width="1.2"/>
<line x1="156.80" y1="380.6" x2="156.80" y2="384.00" stroke="#1a1a1a" stroke-width="1.2"/>
<line x1="181.05" y1="380.6" x2="181.05" y2="384.00" stroke="#1a1a1a" stroke-width="1.2"/>
<line x1="205.30" y1="380.6" x2="205.30" y2="384.00" stroke="#1a1a1a" stroke-width="1.2"/>
<line x1="229.55" y1="380.6" x2="229.55" y2="384.00" stroke="#1a1a1a" stroke-width="1.2"/>
<text x="71.92" y="395.00" font-size="8.2" text-anchor="middle" fill="#222" textLength="16.6" lengthAdjust="spacingAndGlyphs">WBF</text>
<text x="120.43" y="395.00" font-size="8.2" text-anchor="middle" fill="#222" textLength="13.6" lengthAdjust="spacingAndGlyphs">RCF</text>
<text x="168.93" y="395.00" font-size="8.2" text-anchor="middle" fill="#222" textLength="10.7" lengthAdjust="spacingAndGlyphs">AD</text>
<text x="217.43" y="395.00" font-size="8.2" text-anchor="middle" fill="#222" textLength="17.4" lengthAdjust="spacingAndGlyphs">WBD</text>
<text x="144.80" y="408.90" font-size="9.4" text-anchor="middle" fill="#111" textLength="118.4" lengthAdjust="spacingAndGlyphs">RCC component processing</text>
<line x1="59.8" y1="291.1" x2="59.8" y2="333.0" stroke="#353535" stroke-width="1.3"/>
<line x1="55.40" y1="291.1" x2="64.20" y2="291.1" stroke="#1e1e1e" stroke-width="1.3"/>
<line x1="55.40" y1="333.0" x2="64.20" y2="333.0" stroke="#1e1e1e" stroke-width="1.3"/>
<line x1="51.60" y1="312.1" x2="68.00" y2="312.1" stroke="#111" stroke-width="1.45"/>
<circle cx="59.8" cy="282.9" r="2.5" fill="none" stroke="#b8142f" stroke-width="1.1"/>
<circle cx="59.8" cy="291.8" r="2.5" fill="none" stroke="#b8142f" stroke-width="1.1"/>
<circle cx="59.8" cy="300.4" r="2.5" fill="none" stroke="#b8142f" stroke-width="1.1"/>
<circle cx="59.8" cy="312.9" r="2.5" fill="none" stroke="#b8142f" stroke-width="1.1"/>
<circle cx="55.6" cy="329.4" r="2.5" fill="none" stroke="#b8142f" stroke-width="1.1"/>
<circle cx="64.6" cy="330.4" r="2.5" fill="none" stroke="#b8142f" stroke-width="1.1"/>
<circle cx="59.8" cy="334.7" r="2.5" fill="none" stroke="#b8142f" stroke-width="1.1"/>
<line x1="84.1" y1="308.8" x2="84.1" y2="354.1" stroke="#353535" stroke-width="1.3"/>
<line x1="79.70" y1="308.8" x2="88.50" y2="308.8" stroke="#1e1e1e" stroke-width="1.3"/>
<line x1="79.70" y1="354.1" x2="88.50" y2="354.1" stroke="#1e1e1e" stroke-width="1.3"/>
<line x1="75.90" y1="331.3" x2="92.30" y2="331.3" stroke="#111" stroke-width="1.45"/>
<circle cx="84.1" cy="282.2" r="2.7" fill="#bf6363" stroke="#b8142f" stroke-width="1.1"/>
<circle cx="84.1" cy="318.4" r="2.7" fill="#bf6363" stroke="#b8142f" stroke-width="1.1"/>
<circle cx="79.6" cy="334.7" r="2.7" fill="#bf6363" stroke="#b8142f" stroke-width="1.1"/>
<circle cx="84.1" cy="335.8" r="2.7" fill="#bf6363" stroke="#b8142f" stroke-width="1.1"/>
<circle cx="88.6" cy="335.1" r="2.7" fill="#bf6363" stroke="#b8142f" stroke-width="1.1"/>
<circle cx="80" cy="340.2" r="2.7" fill="#bf6363" stroke="#b8142f" stroke-width="1.1"/>
<circle cx="88" cy="347.5" r="2.7" fill="#bf6363" stroke="#b8142f" stroke-width="1.1"/>
<circle cx="84.1" cy="357" r="2.7" fill="#bf6363" stroke="#b8142f" stroke-width="1.1"/>
<line x1="108.3" y1="325.6" x2="108.3" y2="353.0" stroke="#353535" stroke-width="1.3"/>
<line x1="103.90" y1="325.6" x2="112.70" y2="325.6" stroke="#1e1e1e" stroke-width="1.3"/>
<line x1="103.90" y1="353.0" x2="112.70" y2="353.0" stroke="#1e1e1e" stroke-width="1.3"/>
<line x1="100.10" y1="339.4" x2="116.50" y2="339.4" stroke="#111" stroke-width="1.45"/>
<rect x="101.85" y="316.95" width="4.9" height="4.9" fill="none" stroke="#22408a" stroke-width="1.1"/>
<rect x="109.85" y="322.45" width="4.9" height="4.9" fill="none" stroke="#22408a" stroke-width="1.1"/>
<rect x="105.85" y="333.95" width="4.9" height="4.9" fill="none" stroke="#22408a" stroke-width="1.1"/>
<rect x="101.55" y="340.55" width="4.9" height="4.9" fill="none" stroke="#22408a" stroke-width="1.1"/>
<rect x="110.65" y="339.55" width="4.9" height="4.9" fill="none" stroke="#22408a" stroke-width="1.1"/>
<rect x="105.85" y="345.45" width="4.9" height="4.9" fill="none" stroke="#22408a" stroke-width="1.1"/>
<rect x="105.85" y="357.95" width="4.9" height="4.9" fill="none" stroke="#22408a" stroke-width="1.1"/>
<line x1="132.5" y1="298.0" x2="132.5" y2="360.4" stroke="#353535" stroke-width="1.3"/>
<line x1="128.10" y1="298.0" x2="136.90" y2="298.0" stroke="#1e1e1e" stroke-width="1.3"/>
<line x1="128.10" y1="360.4" x2="136.90" y2="360.4" stroke="#1e1e1e" stroke-width="1.3"/>
<line x1="124.30" y1="328.9" x2="140.70" y2="328.9" stroke="#111" stroke-width="1.45"/>
<rect x="130.35" y="262.65" width="4.9" height="4.9" fill="#5c6ea6" stroke="#22408a" stroke-width="1.1"/>
<rect x="134.15" y="316.45" width="4.9" height="4.9" fill="#5c6ea6" stroke="#22408a" stroke-width="1.1"/>
<rect x="126.55" y="323.15" width="4.9" height="4.9" fill="#5c6ea6" stroke="#22408a" stroke-width="1.1"/>
<rect x="134.65" y="338.65" width="4.9" height="4.9" fill="#5c6ea6" stroke="#22408a" stroke-width="1.1"/>
<rect x="125.55" y="342.55" width="4.9" height="4.9" fill="#5c6ea6" stroke="#22408a" stroke-width="1.1"/>
<rect x="130.35" y="343.55" width="4.9" height="4.9" fill="#5c6ea6" stroke="#22408a" stroke-width="1.1"/>
<rect x="130.35" y="357.95" width="4.9" height="4.9" fill="#5c6ea6" stroke="#22408a" stroke-width="1.1"/>
<line x1="156.9" y1="290.9" x2="156.9" y2="368.1" stroke="#353535" stroke-width="1.3"/>
<line x1="152.50" y1="290.9" x2="161.30" y2="290.9" stroke="#1e1e1e" stroke-width="1.3"/>
<line x1="152.50" y1="368.1" x2="161.30" y2="368.1" stroke="#1e1e1e" stroke-width="1.3"/>
<line x1="148.70" y1="329.4" x2="165.10" y2="329.4" stroke="#111" stroke-width="1.45"/>
<polygon points="156.90,264.58 159.40,268.98 154.40,268.98" fill="none" stroke="#5aa83a" stroke-width="1.1"/>
<polygon points="156.90,274.08 159.40,278.48 154.40,278.48" fill="none" stroke="#5aa83a" stroke-width="1.1"/>
<polygon points="152.80,331.88 155.30,336.28 150.30,336.28" fill="none" stroke="#5aa83a" stroke-width="1.1"/>
<polygon points="161.40,332.38 163.90,336.78 158.90,336.78" fill="none" stroke="#5aa83a" stroke-width="1.1"/>
<polygon points="156.90,338.58 159.40,342.98 154.40,342.98" fill="none" stroke="#5aa83a" stroke-width="1.1"/>
<polygon points="153.10,350.08 155.60,354.48 150.60,354.48" fill="none" stroke="#5aa83a" stroke-width="1.1"/>
<polygon points="161.00,354.38 163.50,358.78 158.50,358.78" fill="none" stroke="#5aa83a" stroke-width="1.1"/>
<polygon points="156.90,375.28 159.40,379.68 154.40,379.68" fill="none" stroke="#5aa83a" stroke-width="1.1"/>
<line x1="181.2" y1="337.7" x2="181.2" y2="363.4" stroke="#353535" stroke-width="1.3"/>
<line x1="176.80" y1="337.7" x2="185.60" y2="337.7" stroke="#1e1e1e" stroke-width="1.3"/>
<line x1="176.80" y1="363.4" x2="185.60" y2="363.4" stroke="#1e1e1e" stroke-width="1.3"/>
<line x1="173.00" y1="350.5" x2="189.40" y2="350.5" stroke="#111" stroke-width="1.45"/>
<polygon points="181.20,320.48 183.70,324.88 178.70,324.88" fill="#86bf68" stroke="#5aa83a" stroke-width="1.1" stroke-linejoin="miter"/>
<polygon points="177.10,341.88 179.60,346.28 174.60,346.28" fill="#86bf68" stroke="#5aa83a" stroke-width="1.1" stroke-linejoin="miter"/>
<polygon points="185.00,345.68 187.50,350.08 182.50,350.08" fill="#86bf68" stroke="#5aa83a" stroke-width="1.1" stroke-linejoin="miter"/>
<polygon points="176.80,354.78 179.30,359.18 174.30,359.18" fill="#86bf68" stroke="#5aa83a" stroke-width="1.1" stroke-linejoin="miter"/>
<polygon points="185.40,354.78 187.90,359.18 182.90,359.18" fill="#86bf68" stroke="#5aa83a" stroke-width="1.1" stroke-linejoin="miter"/>
<polygon points="179.00,356.68 181.50,361.08 176.50,361.08" fill="#86bf68" stroke="#5aa83a" stroke-width="1.1" stroke-linejoin="miter"/>
<polygon points="183.50,358.08 186.00,362.48 181.00,362.48" fill="#86bf68" stroke="#5aa83a" stroke-width="1.1" stroke-linejoin="miter"/>
<polygon points="181.40,359.58 183.90,363.98 178.90,363.98" fill="#86bf68" stroke="#5aa83a" stroke-width="1.1" stroke-linejoin="miter"/>
<line x1="205.4" y1="331.5" x2="205.4" y2="368.4" stroke="#353535" stroke-width="1.3"/>
<line x1="201.00" y1="331.5" x2="209.80" y2="331.5" stroke="#1e1e1e" stroke-width="1.3"/>
<line x1="201.00" y1="368.4" x2="209.80" y2="368.4" stroke="#1e1e1e" stroke-width="1.3"/>
<line x1="197.20" y1="349.7" x2="213.60" y2="349.7" stroke="#111" stroke-width="1.45"/>
<polygon points="202.90,319.32 207.90,319.32 205.40,323.72" fill="none" stroke="#4e1a78" stroke-width="1.1"/>
<polygon points="200.90,337.72 205.90,337.72 203.40,342.12" fill="none" stroke="#4e1a78" stroke-width="1.1"/>
<polygon points="204.50,337.72 209.50,337.72 207.00,342.12" fill="none" stroke="#4e1a78" stroke-width="1.1"/>
<polygon points="200.90,346.72 205.90,346.72 203.40,351.12" fill="none" stroke="#4e1a78" stroke-width="1.1"/>
<polygon points="204.50,346.72 209.50,346.72 207.00,351.12" fill="none" stroke="#4e1a78" stroke-width="1.1"/>
<polygon points="199.00,350.92 204.00,350.92 201.50,355.32" fill="none" stroke="#4e1a78" stroke-width="1.1"/>
<polygon points="206.60,356.82 211.60,356.82 209.10,361.22" fill="none" stroke="#4e1a78" stroke-width="1.1"/>
<polygon points="202.90,374.12 207.90,374.12 205.40,378.52" fill="none" stroke="#4e1a78" stroke-width="1.1"/>
<line x1="229.6" y1="346.3" x2="229.6" y2="366.2" stroke="#353535" stroke-width="1.3"/>
<line x1="225.20" y1="346.3" x2="234.00" y2="346.3" stroke="#1e1e1e" stroke-width="1.3"/>
<line x1="225.20" y1="366.2" x2="234.00" y2="366.2" stroke="#1e1e1e" stroke-width="1.3"/>
<line x1="221.40" y1="356.4" x2="237.80" y2="356.4" stroke="#111" stroke-width="1.45"/>
<polygon points="227.30,333.92 232.30,333.92 229.80,338.32" fill="#70528f" stroke="#4e1a78" stroke-width="1.1"/>
<polygon points="222.60,351.32 227.60,351.32 225.10,355.72" fill="#70528f" stroke="#4e1a78" stroke-width="1.1"/>
<polygon points="226.90,351.82 231.90,351.82 229.40,356.22" fill="#70528f" stroke="#4e1a78" stroke-width="1.1"/>
<polygon points="231.60,351.32 236.60,351.32 234.10,355.72" fill="#70528f" stroke="#4e1a78" stroke-width="1.1"/>
<polygon points="223.10,361.52 228.10,361.52 225.60,365.92" fill="#70528f" stroke="#4e1a78" stroke-width="1.1"/>
<polygon points="227.30,362.92 232.30,362.92 229.80,367.32" fill="#70528f" stroke="#4e1a78" stroke-width="1.1"/>
<polygon points="231.20,361.72 236.20,361.72 233.70,366.12" fill="#70528f" stroke="#4e1a78" stroke-width="1.1"/>
<text x="269.0" y="227.9" font-size="12.6" fill="#111" style="stroke-width:0.15px" textLength="8.0" lengthAdjust="spacingAndGlyphs">D</text>
<text x="405.9" y="237.0" font-size="9.7" text-anchor="middle" fill="#111" textLength="71.0" lengthAdjust="spacingAndGlyphs">LPS-induced IL-8</text>
<line x1="301.09999999999997" y1="380.70" x2="304.4" y2="380.70" stroke="#1a1a1a" stroke-width="1.2"/>
<text x="298.2" y="383.50" font-size="9.4" text-anchor="end" fill="#222" style="stroke-width:0.12px" textLength="4.45" lengthAdjust="spacingAndGlyphs">0</text>
<line x1="301.09999999999997" y1="336.00" x2="304.4" y2="336.00" stroke="#1a1a1a" stroke-width="1.2"/>
<text x="298.2" y="338.80" font-size="9.4" text-anchor="end" fill="#222" style="stroke-width:0.12px" textLength="8.90" lengthAdjust="spacingAndGlyphs">50</text>
<line x1="301.09999999999997" y1="291.30" x2="304.4" y2="291.30" stroke="#1a1a1a" stroke-width="1.2"/>
<text x="298.2" y="294.10" font-size="9.4" text-anchor="end" fill="#222" style="stroke-width:0.12px" textLength="13.35" lengthAdjust="spacingAndGlyphs">100</text>
<line x1="301.09999999999997" y1="246.60" x2="304.4" y2="246.60" stroke="#1a1a1a" stroke-width="1.2"/>
<text x="298.2" y="249.40" font-size="9.4" text-anchor="end" fill="#222" style="stroke-width:0.12px" textLength="13.35" lengthAdjust="spacingAndGlyphs">150</text>
<text transform="translate(277.0,311.65) rotate(-90)" font-size="9.7" text-anchor="middle" fill="#111" textLength="39.7" lengthAdjust="spacingAndGlyphs">% control</text>
<line x1="304.4" y1="291.3" x2="512.7" y2="291.3" stroke="#5a8a76" stroke-width="1.2" stroke-dasharray="3.4 2.35" stroke-dashoffset="0.7"/>
<line x1="304.4" y1="243.00" x2="304.4" y2="381.40" stroke="#1a1a1a" stroke-width="1.4"/>
<line x1="303.7" y1="380.7" x2="506.5" y2="380.7" stroke="#1a1a1a" stroke-width="1.4"/>
<line x1="320.40" y1="380.7" x2="320.40" y2="384.10" stroke="#1a1a1a" stroke-width="1.2"/>
<line x1="344.65" y1="380.7" x2="344.65" y2="384.10" stroke="#1a1a1a" stroke-width="1.2"/>
<line x1="368.90" y1="380.7" x2="368.90" y2="384.10" stroke="#1a1a1a" stroke-width="1.2"/>
<line x1="393.15" y1="380.7" x2="393.15" y2="384.10" stroke="#1a1a1a" stroke-width="1.2"/>
<line x1="417.40" y1="380.7" x2="417.40" y2="384.10" stroke="#1a1a1a" stroke-width="1.2"/>
<line x1="441.65" y1="380.7" x2="441.65" y2="384.10" stroke="#1a1a1a" stroke-width="1.2"/>
<line x1="465.90" y1="380.7" x2="465.90" y2="384.10" stroke="#1a1a1a" stroke-width="1.2"/>
<line x1="490.15" y1="380.7" x2="490.15" y2="384.10" stroke="#1a1a1a" stroke-width="1.2"/>
<text x="332.53" y="395.10" font-size="8.2" text-anchor="middle" fill="#222" textLength="16.6" lengthAdjust="spacingAndGlyphs">WBF</text>
<text x="381.03" y="395.10" font-size="8.2" text-anchor="middle" fill="#222" textLength="13.6" lengthAdjust="spacingAndGlyphs">RCF</text>
<text x="429.53" y="395.10" font-size="8.2" text-anchor="middle" fill="#222" textLength="10.7" lengthAdjust="spacingAndGlyphs">AD</text>
<text x="478.03" y="395.10" font-size="8.2" text-anchor="middle" fill="#222" textLength="17.4" lengthAdjust="spacingAndGlyphs">WBD</text>
<text x="406.45" y="409.00" font-size="9.4" text-anchor="middle" fill="#111" textLength="118.4" lengthAdjust="spacingAndGlyphs">RCC component processing</text>
<line x1="320.5" y1="274.1" x2="320.5" y2="295.1" stroke="#353535" stroke-width="1.3"/>
<line x1="316.10" y1="274.1" x2="324.90" y2="274.1" stroke="#1e1e1e" stroke-width="1.3"/>
<line x1="316.10" y1="295.1" x2="324.90" y2="295.1" stroke="#1e1e1e" stroke-width="1.3"/>
<line x1="312.30" y1="284.6" x2="328.70" y2="284.6" stroke="#111" stroke-width="1.45"/>
<circle cx="316.5" cy="271.3" r="2.5" fill="none" stroke="#b8142f" stroke-width="1.1"/>
<circle cx="325.1" cy="274.1" r="2.5" fill="none" stroke="#b8142f" stroke-width="1.1"/>
<circle cx="320.8" cy="277" r="2.5" fill="none" stroke="#b8142f" stroke-width="1.1"/>
<circle cx="316" cy="290.6" r="2.5" fill="none" stroke="#b8142f" stroke-width="1.1"/>
<circle cx="320.8" cy="289.4" r="2.5" fill="none" stroke="#b8142f" stroke-width="1.1"/>
<circle cx="325.1" cy="293.2" r="2.5" fill="none" stroke="#b8142f" stroke-width="1.1"/>
<circle cx="320.8" cy="297.5" r="2.5" fill="none" stroke="#b8142f" stroke-width="1.1"/>
<line x1="344.8" y1="270.3" x2="344.8" y2="296.8" stroke="#353535" stroke-width="1.3"/>
<line x1="340.40" y1="270.3" x2="349.20" y2="270.3" stroke="#1e1e1e" stroke-width="1.3"/>
<line x1="340.40" y1="296.8" x2="349.20" y2="296.8" stroke="#1e1e1e" stroke-width="1.3"/>
<line x1="336.60" y1="283.7" x2="353.00" y2="283.7" stroke="#111" stroke-width="1.45"/>
<circle cx="344.8" cy="262" r="2.7" fill="#bf6363" stroke="#b8142f" stroke-width="1.1"/>
<circle cx="344.8" cy="274.1" r="2.7" fill="#bf6363" stroke="#b8142f" stroke-width="1.1"/>
<circle cx="349.1" cy="275.6" r="2.7" fill="#bf6363" stroke="#b8142f" stroke-width="1.1"/>
<circle cx="337.2" cy="282.2" r="2.7" fill="#bf6363" stroke="#b8142f" stroke-width="1.1"/>
<circle cx="341.3" cy="286" r="2.7" fill="#bf6363" stroke="#b8142f" stroke-width="1.1"/>
<circle cx="352.4" cy="292.7" r="2.7" fill="#bf6363" stroke="#b8142f" stroke-width="1.1"/>
<circle cx="348.6" cy="295.4" r="2.7" fill="#bf6363" stroke="#b8142f" stroke-width="1.1"/>
<circle cx="341.3" cy="302.1" r="2.7" fill="#bf6363" stroke="#b8142f" stroke-width="1.1"/>
<line x1="369.1" y1="273.5" x2="369.1" y2="288.3" stroke="#353535" stroke-width="1.3"/>
<line x1="364.70" y1="273.5" x2="373.50" y2="273.5" stroke="#1e1e1e" stroke-width="1.3"/>
<line x1="364.70" y1="288.3" x2="373.50" y2="288.3" stroke="#1e1e1e" stroke-width="1.3"/>
<line x1="360.90" y1="280.6" x2="377.30" y2="280.6" stroke="#111" stroke-width="1.45"/>
<rect x="366.85" y="266.05" width="4.9" height="4.9" fill="none" stroke="#22408a" stroke-width="1.1"/>
<rect x="362.55" y="273.85" width="4.9" height="4.9" fill="none" stroke="#22408a" stroke-width="1.1"/>
<rect x="370.65" y="274.85" width="4.9" height="4.9" fill="none" stroke="#22408a" stroke-width="1.1"/>
<rect x="363.95" y="278.15" width="4.9" height="4.9" fill="none" stroke="#22408a" stroke-width="1.1"/>
<rect x="369.25" y="280.55" width="4.9" height="4.9" fill="none" stroke="#22408a" stroke-width="1.1"/>
<rect x="370.65" y="284.85" width="4.9" height="4.9" fill="none" stroke="#22408a" stroke-width="1.1"/>
<rect x="362.85" y="288.65" width="4.9" height="4.9" fill="none" stroke="#22408a" stroke-width="1.1"/>
<line x1="393.3" y1="268.1" x2="393.3" y2="302.4" stroke="#353535" stroke-width="1.3"/>
<line x1="388.90" y1="268.1" x2="397.70" y2="268.1" stroke="#1e1e1e" stroke-width="1.3"/>
<line x1="388.90" y1="302.4" x2="397.70" y2="302.4" stroke="#1e1e1e" stroke-width="1.3"/>
<line x1="385.10" y1="285.4" x2="401.50" y2="285.4" stroke="#111" stroke-width="1.45"/>
<rect x="390.85" y="255.15" width="4.9" height="4.9" fill="#5c6ea6" stroke="#22408a" stroke-width="1.1"/>
<rect x="387.05" y="270.25" width="4.9" height="4.9" fill="#5c6ea6" stroke="#22408a" stroke-width="1.1"/>
<rect x="398.45" y="273.35" width="4.9" height="4.9" fill="#5c6ea6" stroke="#22408a" stroke-width="1.1"/>
<rect x="394.15" y="279.25" width="4.9" height="4.9" fill="#5c6ea6" stroke="#22408a" stroke-width="1.1"/>
<rect x="383.15" y="285.55" width="4.9" height="4.9" fill="#5c6ea6" stroke="#22408a" stroke-width="1.1"/>
<rect x="387.05" y="292.35" width="4.9" height="4.9" fill="#5c6ea6" stroke="#22408a" stroke-width="1.1"/>
<rect x="394.65" y="298.55" width="4.9" height="4.9" fill="#5c6ea6" stroke="#22408a" stroke-width="1.1"/>
<rect x="390.85" y="309.55" width="4.9" height="4.9" fill="#5c6ea6" stroke="#22408a" stroke-width="1.1"/>
<line x1="417.6" y1="288.0" x2="417.6" y2="316.7" stroke="#353535" stroke-width="1.3"/>
<line x1="413.20" y1="288.0" x2="422.00" y2="288.0" stroke="#1e1e1e" stroke-width="1.3"/>
<line x1="413.20" y1="316.7" x2="422.00" y2="316.7" stroke="#1e1e1e" stroke-width="1.3"/>
<line x1="409.40" y1="302.3" x2="425.80" y2="302.3" stroke="#111" stroke-width="1.45"/>
<polygon points="413.60,283.58 416.10,287.98 411.10,287.98" fill="none" stroke="#5aa83a" stroke-width="1.1"/>
<polygon points="422.10,281.68 424.60,286.08 419.60,286.08" fill="none" stroke="#5aa83a" stroke-width="1.1"/>
<polygon points="417.40,287.88 419.90,292.28 414.90,292.28" fill="none" stroke="#5aa83a" stroke-width="1.1"/>
<polygon points="417.40,298.88 419.90,303.28 414.90,303.28" fill="none" stroke="#5aa83a" stroke-width="1.1"/>
<polygon points="417.40,306.78 419.90,311.18 414.90,311.18" fill="none" stroke="#5aa83a" stroke-width="1.1"/>
<polygon points="413.10,311.68 415.60,316.08 410.60,316.08" fill="none" stroke="#5aa83a" stroke-width="1.1"/>
<polygon points="422.10,313.18 424.60,317.58 419.60,317.58" fill="none" stroke="#5aa83a" stroke-width="1.1"/>
<polygon points="417.80,318.88 420.30,323.28 415.30,323.28" fill="none" stroke="#5aa83a" stroke-width="1.1"/>
<line x1="441.8" y1="291.3" x2="441.8" y2="313.6" stroke="#353535" stroke-width="1.3"/>
<line x1="437.40" y1="291.3" x2="446.20" y2="291.3" stroke="#1e1e1e" stroke-width="1.3"/>
<line x1="437.40" y1="313.6" x2="446.20" y2="313.6" stroke="#1e1e1e" stroke-width="1.3"/>
<line x1="433.60" y1="303.0" x2="450.00" y2="303.0" stroke="#111" stroke-width="1.45"/>
<polygon points="441.80,283.58 444.30,287.98 439.30,287.98" fill="#86bf68" stroke="#5aa83a" stroke-width="1.1" stroke-linejoin="miter"/>
<polygon points="437.60,295.98 440.10,300.38 435.10,300.38" fill="#86bf68" stroke="#5aa83a" stroke-width="1.1" stroke-linejoin="miter"/>
<polygon points="446.10,295.98 448.60,300.38 443.60,300.38" fill="#86bf68" stroke="#5aa83a" stroke-width="1.1" stroke-linejoin="miter"/>
<polygon points="441.80,298.88 444.30,303.28 439.30,303.28" fill="#86bf68" stroke="#5aa83a" stroke-width="1.1" stroke-linejoin="miter"/>
<polygon points="437.60,303.18 440.10,307.58 435.10,307.58" fill="#86bf68" stroke="#5aa83a" stroke-width="1.1" stroke-linejoin="miter"/>
<polygon points="446.10,309.08 448.60,313.48 443.60,313.48" fill="#86bf68" stroke="#5aa83a" stroke-width="1.1" stroke-linejoin="miter"/>
<polygon points="441.80,318.38 444.30,322.78 439.30,322.78" fill="#86bf68" stroke="#5aa83a" stroke-width="1.1" stroke-linejoin="miter"/>
<line x1="466.3" y1="275.8" x2="466.3" y2="309.4" stroke="#353535" stroke-width="1.3"/>
<line x1="461.90" y1="275.8" x2="470.70" y2="275.8" stroke="#1e1e1e" stroke-width="1.3"/>
<line x1="461.90" y1="309.4" x2="470.70" y2="309.4" stroke="#1e1e1e" stroke-width="1.3"/>
<line x1="458.10" y1="292.6" x2="474.50" y2="292.6" stroke="#111" stroke-width="1.45"/>
<polygon points="463.80,266.42 468.80,266.42 466.30,270.82" fill="none" stroke="#4e1a78" stroke-width="1.1"/>
<polygon points="467.60,276.02 472.60,276.02 470.10,280.42" fill="none" stroke="#4e1a78" stroke-width="1.1"/>
<polygon points="459.80,277.92 464.80,277.92 462.30,282.32" fill="none" stroke="#4e1a78" stroke-width="1.1"/>
<polygon points="459.80,295.72 464.80,295.72 462.30,300.12" fill="none" stroke="#4e1a78" stroke-width="1.1"/>
<polygon points="467.20,303.62 472.20,303.62 469.70,308.02" fill="none" stroke="#4e1a78" stroke-width="1.1"/>
<polygon points="471.50,302.12 476.50,302.12 474.00,306.52" fill="none" stroke="#4e1a78" stroke-width="1.1"/>
<polygon points="459.80,309.82 464.80,309.82 462.30,314.22" fill="none" stroke="#4e1a78" stroke-width="1.1"/>
<line x1="490.3" y1="266.2" x2="490.3" y2="309.2" stroke="#353535" stroke-width="1.3"/>
<line x1="485.90" y1="266.2" x2="494.70" y2="266.2" stroke="#1e1e1e" stroke-width="1.3"/>
<line x1="485.90" y1="309.2" x2="494.70" y2="309.2" stroke="#1e1e1e" stroke-width="1.3"/>
<line x1="482.10" y1="287.7" x2="498.50" y2="287.7" stroke="#111" stroke-width="1.45"/>
<polygon points="487.80,255.52 492.80,255.52 490.30,259.92" fill="#70528f" stroke="#4e1a78" stroke-width="1.1"/>
<polygon points="487.80,264.52 492.80,264.52 490.30,268.92" fill="#70528f" stroke="#4e1a78" stroke-width="1.1"/>
<polygon points="483.80,272.92 488.80,272.92 486.30,277.32" fill="#70528f" stroke="#4e1a78" stroke-width="1.1"/>
<polygon points="491.60,280.32 496.60,280.32 494.10,284.72" fill="#70528f" stroke="#4e1a78" stroke-width="1.1"/>
<polygon points="487.80,289.62 492.80,289.62 490.30,294.02" fill="#70528f" stroke="#4e1a78" stroke-width="1.1"/>
<polygon points="483.80,298.62 488.80,298.62 486.30,303.02" fill="#70528f" stroke="#4e1a78" stroke-width="1.1"/>
<polygon points="491.60,302.02 496.60,302.02 494.10,306.42" fill="#70528f" stroke="#4e1a78" stroke-width="1.1"/>
<polygon points="487.80,321.42 492.80,321.42 490.30,325.82" fill="#70528f" stroke="#4e1a78" stroke-width="1.1"/>
<circle cx="155.8" cy="76.0" r="1.15" fill="#383838"/>
<circle cx="159.2" cy="76.0" r="1.15" fill="#383838"/>
<circle cx="177.7" cy="89.2" r="1.15" fill="#383838"/>
<circle cx="181.2" cy="89.2" r="1.15" fill="#383838"/>
<circle cx="184.6" cy="89.2" r="1.15" fill="#383838"/>
<circle cx="204.3" cy="94.0" r="1.15" fill="#383838"/>
<circle cx="207.9" cy="94.0" r="1.15" fill="#383838"/>
<circle cx="230.1" cy="77.7" r="1.15" fill="#383838"/>
<circle cx="59.85" cy="254.6" r="1.15" fill="#383838"/>
</svg>
</body></html>
